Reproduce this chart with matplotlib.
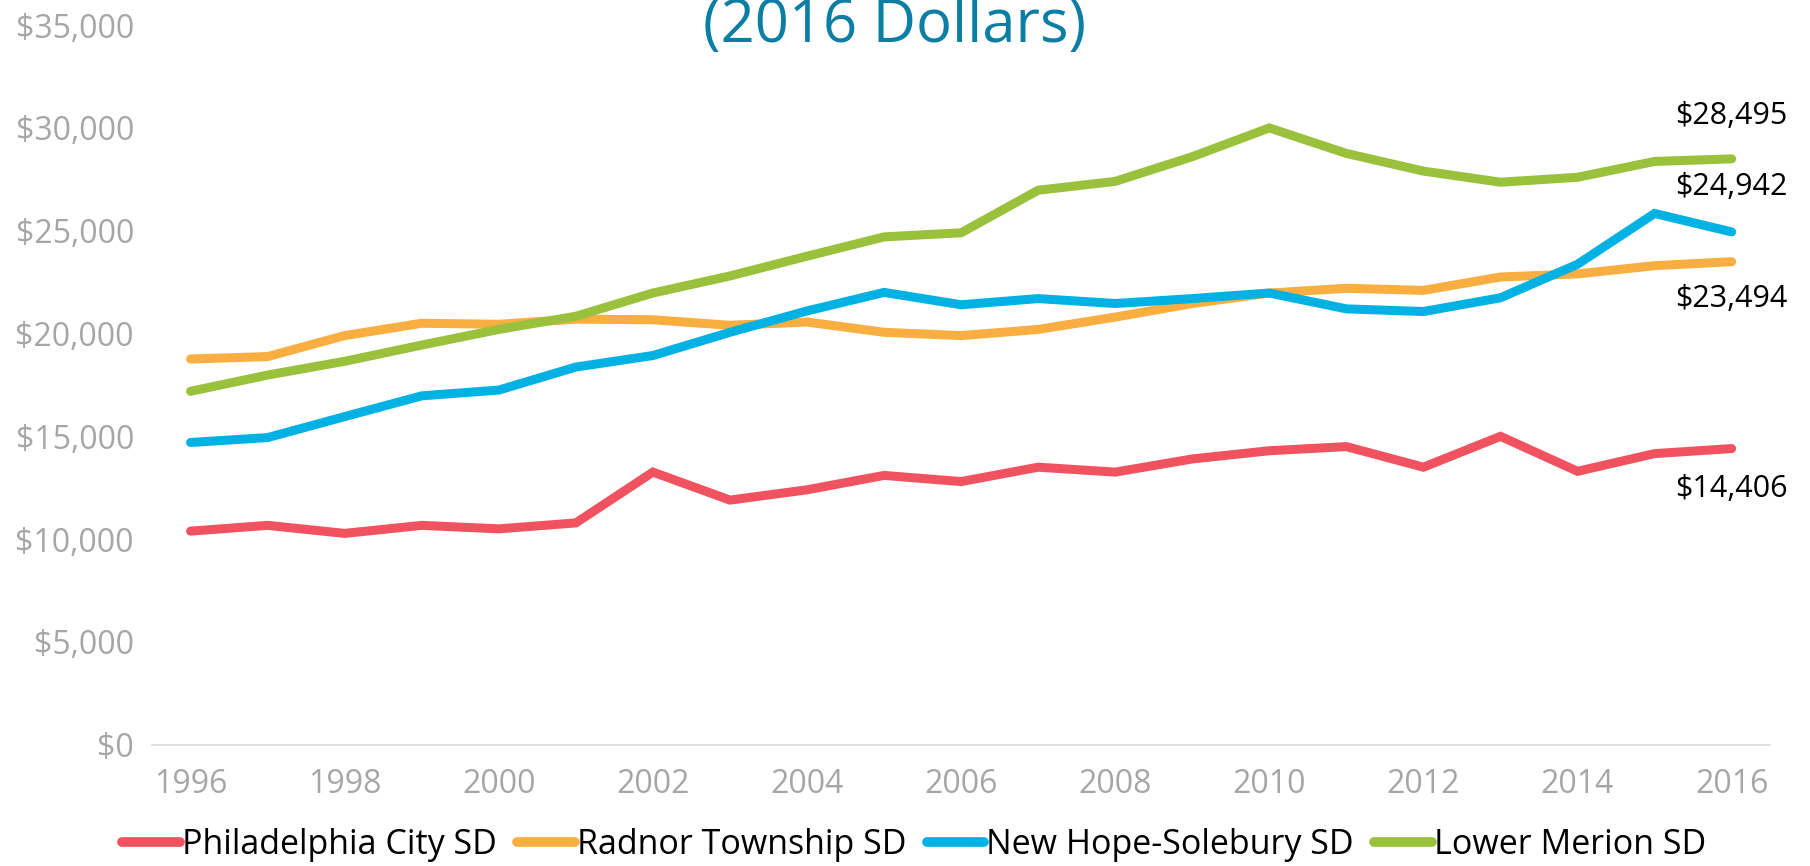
import matplotlib
matplotlib.use('Agg')
import matplotlib.pyplot as plt
from matplotlib.ticker import FuncFormatter

years = list(range(1996, 2017))

philadelphia = [10390, 10670, 10280, 10670, 10500, 10790, 13260, 11900, 12400, 13100,
                12800, 13500, 13260, 13900, 14300, 14500, 13500, 15000, 13300, 14160, 14406]
radnor = [18760, 18880, 19900, 20500, 20450, 20700, 20670, 20400, 20560, 20060,
          19900, 20200, 20800, 21460, 21970, 22200, 22100, 22750, 22900, 23300, 23494]
new_hope = [14700, 14940, 15960, 16970, 17250, 18370, 18930, 20060, 21100, 22000,
            21400, 21700, 21460, 21700, 21970, 21200, 21070, 21740, 23370, 25840, 24942]
lower_merion = [17190, 17980, 18650, 19440, 20200, 20840, 21970, 22800, 23760, 24700,
                24900, 26970, 27400, 28600, 30000, 28760, 27900, 27360, 27600, 28370, 28495]

series = [
    ('Philadelphia City SD', philadelphia, '#F0525F'),
    ('Radnor Township SD', radnor, '#F9AE42'),
    ('New Hope-Solebury SD', new_hope, '#00B2E3'),
    ('Lower Merion SD', lower_merion, '#99C13C'),
]
# where the end label sits relative to the last point (points)
end_offsets = {'Philadelphia City SD': -29, 'Radnor Township SD': -27,
               'New Hope-Solebury SD': 32, 'Lower Merion SD': 31}

plt.rcParams['font.family'] = ['Open Sans', 'DejaVu Sans']

fig = plt.figure(figsize=(18.1, 8.66), dpi=100)
ax = fig.add_axes([0.084, 0.14, 0.894, 0.831])

for name, values, color in series:
    ax.plot(years, values, color=color, lw=6.5, solid_capstyle='round',
            solid_joinstyle='miter', label=name)
    ax.annotate('${:,}'.format(values[-1]), (years[-1], values[-1]),
                xytext=(0, end_offsets[name]), textcoords='offset points',
                ha='center', va='center', fontsize=22, color='black')

ax.set_xlim(1995.5, 2016.5)
ax.set_ylim(0, 35000)
ax.set_xticks(years[::2])
ax.set_yticks(range(0, 35001, 5000))
ax.yaxis.set_major_formatter(FuncFormatter(lambda v, p: '${:,.0f}'.format(v)))
ax.tick_params(length=0, labelsize=23, labelcolor='#A6A6A6', pad=13)
ax.tick_params(axis='x', pad=17)
for s in ['top', 'right', 'left']:
    ax.spines[s].set_visible(False)
ax.spines['bottom'].set_color('#D9D9D9')
ax.spines['bottom'].set_linewidth(1.2)

fig.text(0.494, 0.952, '(2016 Dollars)', ha='center', va='baseline',
         fontsize=43, color='#0B7EA3')

leg = fig.legend(loc='center', bbox_to_anchor=(0.505, 0.024), ncol=4,
                 frameon=False, fontsize=24.5, handlelength=1.7, handletextpad=0.05,
                 columnspacing=0.6)
for h in leg.get_lines():
    h.set_linewidth(7)

fig.savefig('out.png', dpi=100)
